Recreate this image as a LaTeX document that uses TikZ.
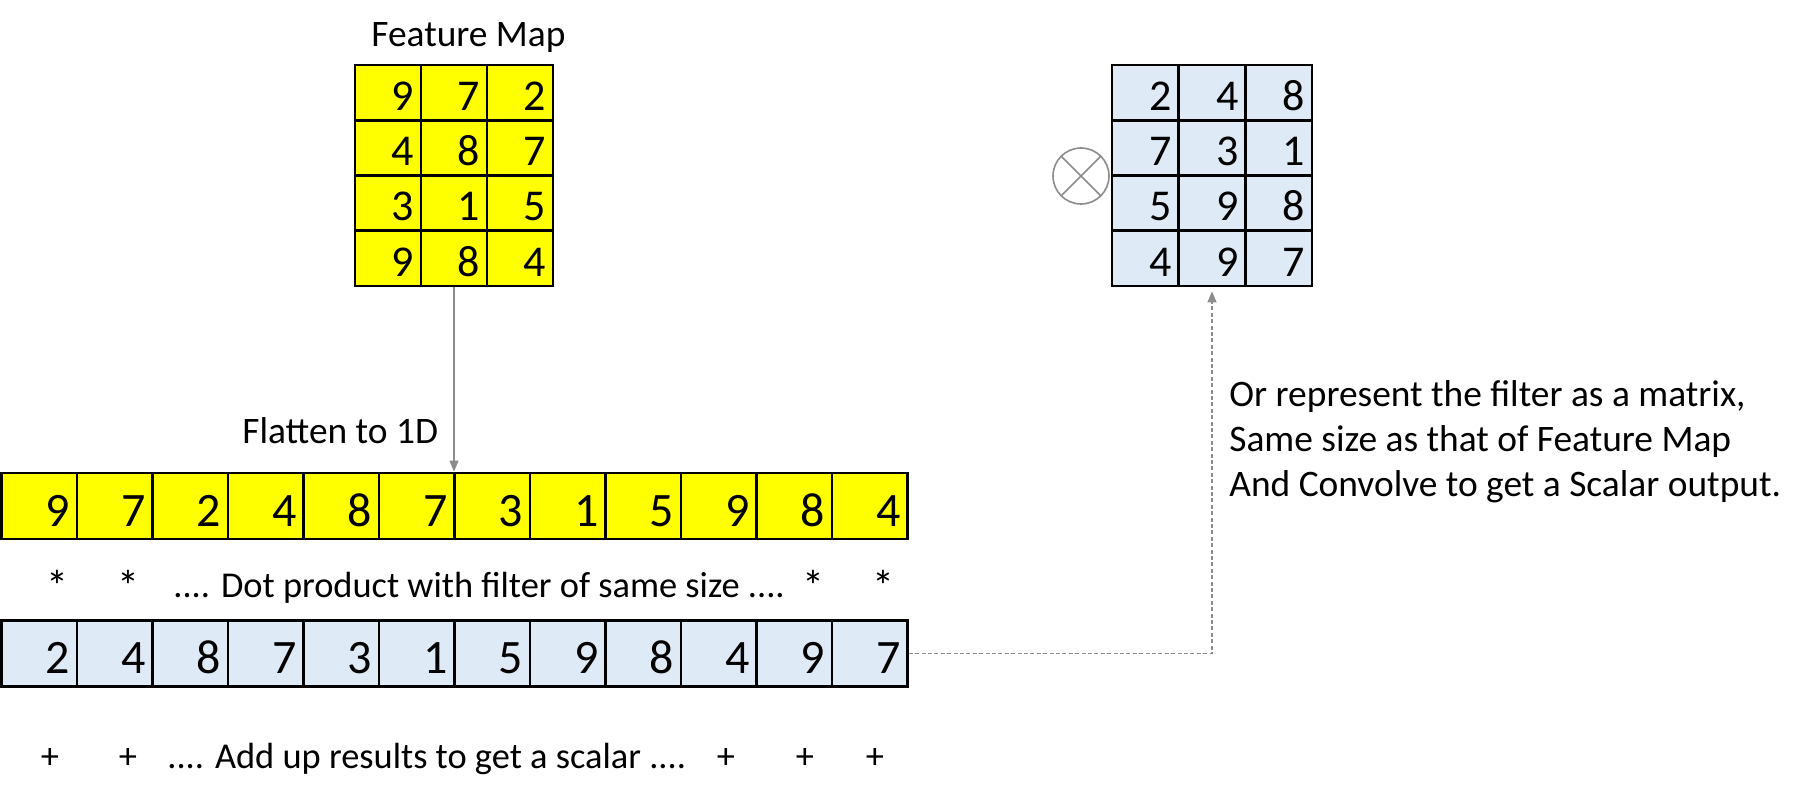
\documentclass[tikz,border=0pt]{standalone}
\usepackage{fontspec}
\setmainfont{Carlito}
\usetikzlibrary{arrows.meta, positioning}

\definecolor{fmyellow}{HTML}{FFFF00}
\definecolor{fltblue}{HTML}{DEEBF7}
\definecolor{linkgray}{HTML}{8C8C8C}

\tikzset{
  cell/.style = {draw=black, line width=1.4pt, inner xsep=3.5pt, inner ysep=0pt, align=right, text depth=0pt},
  fmcell/.style = {cell, fill=fmyellow, text width=26pt, minimum height=27.6pt, text height=17.9pt, font=\fontsize{22}{22}\selectfont},
  fltcell/.style = {cell, fill=fltblue, text width=26.3pt, minimum height=27.6pt, text height=17.9pt, font=\fontsize{22}{22}\selectfont},
  topcell/.style = {cell, fill=fmyellow, text width=30.75pt, minimum height=33pt, text height=20.1pt, font=\fontsize{24}{24}\selectfont},
  botcell/.style = {cell, fill=fltblue, text width=30.75pt, minimum height=33pt, text height=20.1pt, font=\fontsize{24}{24}\selectfont},
  caption/.style = {inner sep=0pt, font=\fontsize{18.2}{22.5}\selectfont},
  note/.style = {caption, font=\fontsize{18.7}{22.5}\selectfont},
  link/.style = {draw=linkgray, line width=0.6pt},
  mult/.style = {circle, draw=linkgray, line width=0.8pt, minimum size=28pt, inner sep=0pt}
}

\begin{document}
\begin{tikzpicture}[x=0.5pt, y=-0.5pt, >={Triangle[length=5.5pt, width=4.5pt]}]

\useasboundingbox (0,0) rectangle (1804,802);

% feature map
\foreach \row/\vals in {1/{9,7,2}, 2/{4,8,7}, 3/{3,1,5}, 4/{9,8,4}} {
  \foreach \v [count=\col] in \vals {
    \node (fm-\row-\col) [fmcell] at ({322+66*\col}, {37.35+55.25*\row}) {\v};
  }
}
\node (fmtitle) [note, anchor=base west] at (371,47) {Feature Map};

% filter as matrix
\foreach \row/\vals in {1/{2,4,8}, 2/{7,3,1}, 3/{5,9,8}, 4/{4,9,7}} {
  \foreach \v [count=\col] in \vals {
    \node (flt-\row-\col) [fltcell] at ({1078.67+66.67*\col}, {37.35+55.25*\row}) {\v};
  }
}
\node (otimes) [mult] at (1081,176) {};
\draw [link, line width=0.8pt] (otimes.north west) -- (otimes.south east)
  (otimes.north east) -- (otimes.south west);

% flattened rows
\foreach \v [count=\i] in {9,7,2,4,8,7,3,1,5,9,8,4}
  \node (top-\i) [topcell] at ({-36.35+75.5*\i}, 506) {\v};
\foreach \v [count=\i] in {2,4,8,7,3,1,5,9,8,4,9,7}
  \node (bot-\i) [botcell] at ({-36.35+75.5*\i}, 653.5) {\v};

\node (flatten) [note, anchor=base west] at (242,443) {Flatten to 1D};

% dot product line
\foreach \x [count=\i] in {57,128,813,883}
  \node (star-\i) [caption, anchor=base, font=\fontsize{22}{22}\selectfont] at (\x,601) {*};
\node (dotnote) [caption, anchor=base west] at (173,597) {.... Dot product with filter of same size ....};

% sum line
\foreach \x [count=\i] in {50,128,726,805,875}
  \node (plus-\i) [caption, anchor=base] at (\x,768) {+};
\node (sumnote) [caption, anchor=base west] at (167,768) {.... Add up results to get a scalar ....};

% side note
\node (matnote) [note, anchor=north west, align=left] at (1229,380)
  {Or represent the filter as a matrix,\\Same size as that of Feature Map\\And Convolve to get a Scalar output.};

% connectors
\draw [link, ->] (fm-4-2.south) -- (fm-4-2.south |- top-7.north);
\draw [link, dash pattern=on 2pt off 1.2pt, ->, shorten >=2pt] (bot-12.east) -| (flt-4-2.south);

\end{tikzpicture}
\end{document}
